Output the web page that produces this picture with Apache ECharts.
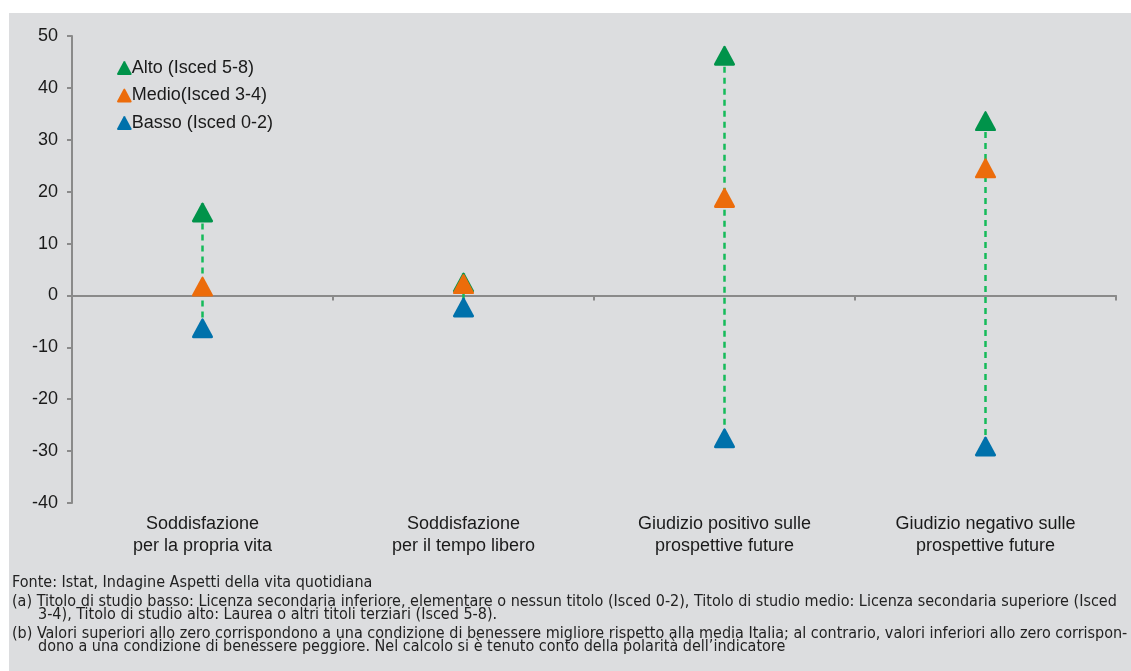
<!DOCTYPE html>
<html><head><meta charset="utf-8">
<script src="https://cdn.jsdelivr.net/npm/echarts@6/dist/echarts.min.js"></script>
<style>
html,body{margin:0;padding:0;background:#fff;width:1131px;height:671px;overflow:hidden}
#wrap{position:absolute;left:9px;top:13px;width:1122px;height:658px;background:#dcdddf;overflow:hidden}
#c{width:1122px;height:658px}
</style></head><body>
<div id="wrap"><div id="c"></div></div>
<script>
const categories = ['Soddisfazione\nper la propria vita','Soddisfazione\nper il tempo libero','Giudizio positivo sulle\nprospettive future','Giudizio negativo sulle\nprospettive future'];
const seriesNames = ['Alto (Isced 5-8)','Medio(Isced 3-4)','Basso (Isced 0-2)'];
const alto  = [16.0, 2.5, 46.2, 33.6];
const medio = [1.7, 2.2, 18.8, 24.5];
const basso = [-6.3, -2.3, -27.5, -29.1];
const yTicks = {min:-40, max:50, interval:10};
const footnotes = [
 'Fonte: Istat, Indagine Aspetti della vita quotidiana',
 '(a) Titolo di studio basso: Licenza secondaria inferiore, elementare o nessun titolo (Isced 0-2), Titolo di studio medio: Licenza secondaria superiore (Isced',
 '3-4), Titolo di studio alto: Laurea o altri titoli terziari (Isced 5-8).',
 '(b) Valori superiori allo zero corrispondono a una condizione di benessere migliore rispetto alla media Italia; al contrario, valori inferiori allo zero corrispon-',
 'dono a una condizione di benessere peggiore. Nel calcolo si è tenuto conto della polarità dell\u2019indicatore'
];

const colors = ['#00934a','#ec6c0b','#0071ab'];
const tri = 'path://M9,1 Q10,-0.5 11,1 L19.6,17 Q20.4,19 18.5,19 L1.5,19 Q-0.4,19 0.4,17 Z';
const rangeData = categories.map((c,i)=>{
  const v=[alto[i],medio[i],basso[i]];
  return [i, Math.max(...v), Math.min(...v)];
});
const chart = echarts.init(document.getElementById('c'));
const ff = '"Liberation Sans", Arial, sans-serif';
const fn = '"DejaVu Sans Condensed", sans-serif';
const footY = [571, 590, 603, 622, 635];
const footX = [3, 3, 29, 3, 29];
chart.setOption({
  animation:false,
  textStyle:{fontFamily:ff},
  grid:{left:63, top:23, width:1044, height:467},
  legend:{
    orient:'vertical', left:103, top:41, itemWidth:15, itemHeight:14, itemGap:9.5,
    icon: tri,
    textStyle:{fontSize:18, color:'#1a1a1a', fontFamily:ff, padding:[0,0,0,-5]},
    data: seriesNames
  },
  xAxis:[{
    type:'category', data:categories, position:'bottom',
    axisLine:{show:false, onZero:false}, axisTick:{show:false},
    axisLabel:{fontSize:18, color:'#1a1a1a', lineHeight:22, margin:10, interval:0, fontFamily:ff}
  },{
    type:'category', data:categories, position:'bottom',
    axisLine:{show:true, onZero:true, lineStyle:{color:'#8a8a8a', width:2}},
    axisTick:{show:true, length:5, lineStyle:{color:'#8a8a8a', width:2}},
    axisLabel:{show:false}, splitLine:{show:false}
  }],
  yAxis:{
    type:'value', min:yTicks.min, max:yTicks.max, interval:yTicks.interval,
    axisLine:{show:true, lineStyle:{color:'#8a8a8a', width:2}},
    axisTick:{show:true, length:5, lineStyle:{color:'#8a8a8a', width:2}},
    splitLine:{show:false},
    axisLabel:{fontSize:18, color:'#1a1a1a', margin:14, fontFamily:ff}
  },
  graphic: footnotes.map((t,i)=>({
    type:'text', left:footX[i], top:footY[i]-9,
    style:{text:t, font:'16px '+fn, fill:'#222'}
  })),
  series:[
    {
      type:'custom', xAxisIndex:0, z:1, silent:true,
      data:rangeData, encode:{x:0, y:[1,2]},
      renderItem:function(params, api){
        const p1 = api.coord([api.value(0), api.value(1)]);
        const p2 = api.coord([api.value(0), api.value(2)]);
        return {type:'line', shape:{x1:p1[0], y1:p1[1], x2:p2[0], y2:p2[1]},
          style:{stroke:'#14bb5a', lineWidth:2.5, lineDash:[6,5]}};
      }
    },
    {name:seriesNames[0], type:'scatter', data:alto, symbol:tri, symbolSize:[21,20], itemStyle:{color:colors[0], opacity:1}, z:2},
    {name:seriesNames[1], type:'scatter', data:medio, symbol:tri, symbolSize:[21,20], itemStyle:{color:colors[1], opacity:1}, z:3},
    {name:seriesNames[2], type:'scatter', data:basso, symbol:tri, symbolSize:[21,20], itemStyle:{color:colors[2], opacity:1}, z:4}
  ]
});
</script></body></html>
